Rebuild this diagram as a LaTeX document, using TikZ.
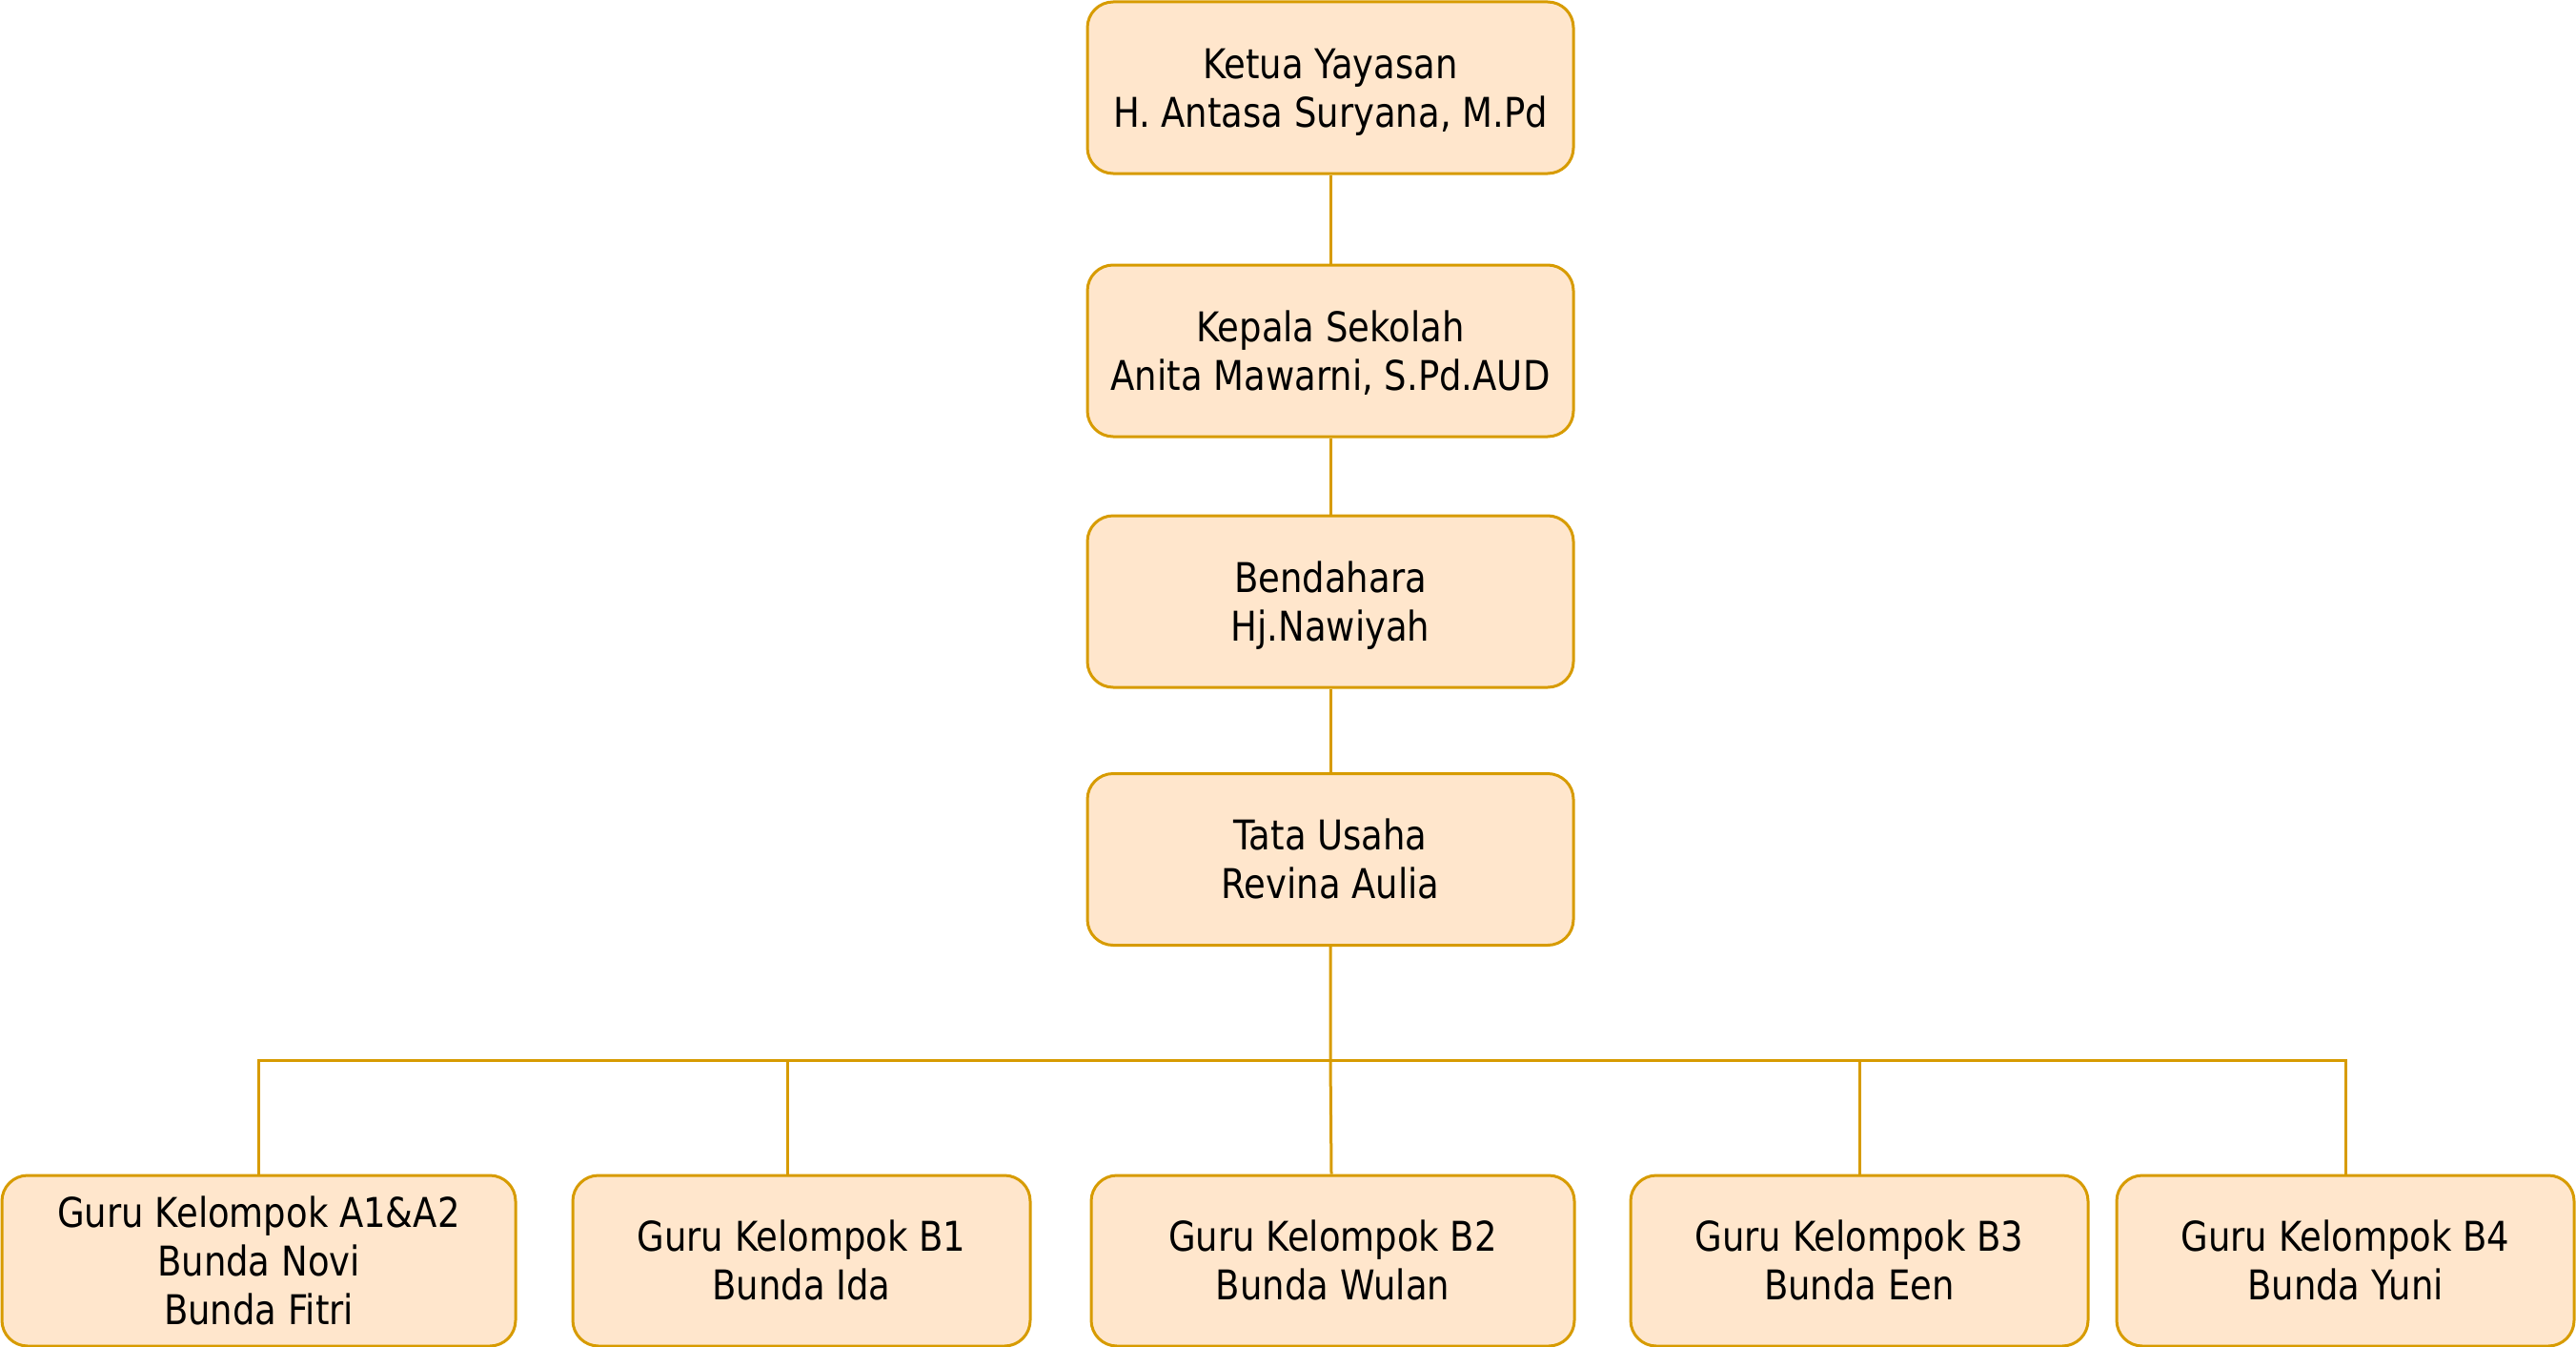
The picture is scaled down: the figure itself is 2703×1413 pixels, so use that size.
\documentclass[tikz,border=0pt]{standalone}
\usepackage{fontspec}
\setmainfont{DejaVu Sans}[FakeStretch=0.86]
\definecolor{boxfill}{HTML}{FFE6CC}
\definecolor{boxdraw}{HTML}{D79B00}
\newcommand{\ts}{\rule{0pt}{42pt}}
\newcommand{\bs}{\rule[-11pt]{0pt}{11pt}}
\begin{document}
\begin{tikzpicture}[x=1pt,y=-1pt,
  orgbox/.style={draw=boxdraw, fill=boxfill, line width=3pt, rounded corners=27pt,
    inner sep=0pt, align=center, font=\fontsize{43}{51}\selectfont,
    minimum height=180pt},
  link/.style={draw=boxdraw, line width=3pt}]
\useasboundingbox (0,0) rectangle (2703,1413);
\node[orgbox, minimum width=510pt] (ketua) at (1396,92) {\ts Ketua Yayasan\\H. Antasa Suryana, M.Pd\bs};
\node[orgbox, minimum width=510pt] (kepala) at (1396,368) {\ts Kepala Sekolah\\Anita Mawarni, S.Pd.AUD\bs};
\node[orgbox, minimum width=510pt] (bend) at (1396,631) {\ts Bendahara\\Hj.Nawiyah\bs};
\node[orgbox, minimum width=510pt] (tu) at (1396,901.5) {\ts Tata Usaha\\Revina Aulia\bs};
\node[orgbox, minimum width=539pt, minimum height=179pt] (ga) at (271.5,1322.5) {\ts Guru Kelompok A1\&A2\\Bunda Novi\\Bunda Fitri\bs};
\node[orgbox, minimum width=480pt, minimum height=179pt] (gb1) at (841,1322.5) {\ts Guru Kelompok B1\\Bunda Ida\bs};
\node[orgbox, minimum width=507pt, minimum height=179pt] (gb2) at (1398.5,1322.5) {\ts Guru Kelompok B2\\Bunda Wulan\bs};
\node[orgbox, minimum width=480pt, minimum height=179pt] (gb3) at (1951,1322.5) {\ts Guru Kelompok B3\\Bunda Een\bs};
\node[orgbox, minimum width=480pt, minimum height=179pt] (gb4) at (2461,1322.5) {\ts Guru Kelompok B4\\Bunda Yuni\bs};
\coordinate (bus) at (1396,1112);
\draw[link] (ketua.south) -- (kepala.north);
\draw[link] (kepala.south) -- (bend.north);
\draw[link] (bend.south) -- (tu.north);
\draw[link] (tu.south) -- (bus) -- ([xshift=-1.5]gb2.north);
\draw[link] (bus) -| (ga.north);
\draw[link] (bus) -| ([xshift=-15]gb1.north);
\draw[link] (bus) -| (gb3.north);
\draw[link] (bus) -| (gb4.north);
\end{tikzpicture}
\end{document}
